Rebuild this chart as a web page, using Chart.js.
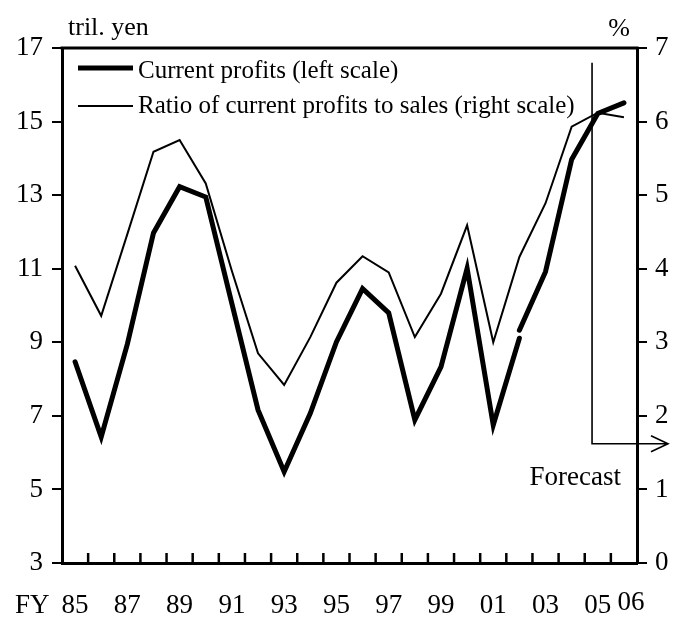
<!DOCTYPE html>
<html>
<head>
<meta charset="utf-8">
<script src="https://cdn.jsdelivr.net/npm/chart.js@4"></script>
<style>
  html, body { margin: 0; padding: 0; background: #fff; }
  #wrap { width: 675px; height: 617px; }
</style>
</head>
<body>
<div id="wrap"><canvas id="chart" width="675" height="617"></canvas></div>
<script>
// Datos (FY 1985 - 2006)
const years = ['85','86','87','88','89','90','91','92','93','94','95','96','97','98','99','00','01','02','03','04','05','06'];
const xTickLabels = ['85','87','89','91','93','95','97','99','01','03','05','06'];

// Beneficios corrientes (billones de yenes, escala izquierda) - serie antigua y nueva (corte en FY02)
const profitsOld = [8.47, 6.43, 8.95, 11.97, 13.23, 12.95, 10.05, 7.16, 5.48, 7.07, 9.01, 10.46, 9.80, 6.89, 8.33, 11.01, 6.75, 9.11, null, null, null, null];
const profitsNew = [null, null, null, null, null, null, null, null, null, null, null, null, null, null, null, null, null, 9.33, 10.92, 13.97, 15.22, 15.51];

// Ratio beneficios / ventas (%, escala derecha)
const ratio = [4.04, 3.36, 4.47, 5.59, 5.75, 5.16, 3.97, 2.85, 2.42, 3.07, 3.81, 4.17, 3.95, 3.07, 3.66, 4.59, 3.00, 4.16, 4.89, 5.93, 6.12, 6.06];

const leftTicks = [3, 5, 7, 9, 11, 13, 15, 17];
const rightTicks = [0, 1, 2, 3, 4, 5, 6, 7];

// Marca de previsión
const forecastAt = 19.78;      // posición en el eje de categorías
const forecastTop = 6.8;       // escala derecha
const forecastArrow = 1.62;    // escala derecha
const forecastText = 1.06;     // escala derecha

const FONT = "'Liberation Serif', 'Times New Roman', serif";

// Plugin para textos, ticks del eje X, borde superior, leyenda y flecha de previsión
const decorations = {
    id: 'decorations',
    afterDraw(chart) {
        const ctx = chart.ctx;
        const area = chart.chartArea;
        const x = chart.scales.x;
        const yR = chart.scales.y1;
        ctx.save();
        ctx.strokeStyle = '#000';
        ctx.fillStyle = '#000';

        // borde superior
        ctx.lineWidth = 3;
        ctx.beginPath();
        ctx.moveTo(area.left - 1.5, area.top);
        ctx.lineTo(area.right + 1.5, area.top);
        ctx.stroke();

        // ticks del eje X hacia dentro (entre categorías)
        ctx.lineWidth = 2.5;
        for (let i = 1; i < years.length; i++) {
            const px = (x.getPixelForTick(i - 1) + x.getPixelForTick(i)) / 2;
            ctx.beginPath();
            ctx.moveTo(px, area.bottom);
            ctx.lineTo(px, area.bottom - 10);
            ctx.stroke();
        }

        // etiquetas del eje X
        ctx.font = '27px ' + FONT;
        ctx.textAlign = 'center';
        ctx.textBaseline = 'alphabetic';
        years.forEach((lab, i) => {
            if (!xTickLabels.includes(lab)) return;
            const last = i === years.length - 1;
            ctx.fillText(lab, x.getPixelForTick(i) + (last ? 7 : 0), last ? 610 : 613);
        });
        ctx.textAlign = 'left';
        ctx.fillText('FY', 15, 613);

        // unidades
        ctx.font = '26px ' + FONT;
        ctx.fillText('tril. yen', 68, 35);
        ctx.textAlign = 'right';
        ctx.fillText('%', area.right - 7, 36);

        // leyenda
        const items = [chart.data.datasets[0], chart.data.datasets[2]];
        const lineY = [68, 106];
        const textY = [78, 113];
        ctx.font = '25px ' + FONT;
        ctx.textAlign = 'left';
        items.forEach((ds, i) => {
            ctx.lineWidth = ds.borderWidth;
            ctx.beginPath();
            ctx.moveTo(78, lineY[i]);
            ctx.lineTo(133, lineY[i]);
            ctx.stroke();
            ctx.fillText(ds.label, 138, textY[i]);
        });

        // previsión
        const fx = x.getPixelForValue(forecastAt);
        const ft = yR.getPixelForValue(forecastTop);
        const fb = yR.getPixelForValue(forecastArrow);
        const tip = area.right + 31;
        ctx.lineWidth = 1.6;
        ctx.beginPath();
        ctx.moveTo(fx, ft);
        ctx.lineTo(fx, fb);
        ctx.lineTo(tip, fb);
        ctx.moveTo(tip - 17, fb - 8);
        ctx.lineTo(tip, fb);
        ctx.lineTo(tip - 17, fb + 8);
        ctx.stroke();
        ctx.font = '27px ' + FONT;
        ctx.textAlign = 'right';
        ctx.fillText('Forecast', fx + 29, yR.getPixelForValue(forecastText));
        ctx.restore();
    }
};

const ctx = document.getElementById('chart').getContext('2d');
new Chart(ctx, {
    type: 'line',
    data: {
        labels: years,
        datasets: [
            {
                label: 'Current profits (left scale)',
                data: profitsOld,
                yAxisID: 'y',
                borderColor: '#000',
                borderWidth: 5,
                borderCapStyle: 'round',
                pointRadius: 0,
                tension: 0,
                spanGaps: false
            },
            {
                label: 'Current profits (new)',
                data: profitsNew,
                yAxisID: 'y',
                borderColor: '#000',
                borderWidth: 5,
                borderCapStyle: 'round',
                pointRadius: 0,
                tension: 0,
                spanGaps: false
            },
            {
                label: 'Ratio of current profits to sales (right scale)',
                data: ratio,
                yAxisID: 'y1',
                borderColor: '#000',
                borderWidth: 2,
                pointRadius: 0,
                tension: 0
            }
        ]
    },
    options: {
        responsive: false,
        animation: false,
        layout: { padding: { top: 48, left: 0, right: 0, bottom: 0 } },
        plugins: {
            legend: { display: false },
            tooltip: { enabled: false }
        },
        scales: {
            x: {
                type: 'category',
                offset: true,
                grid: { display: false },
                border: { display: true, color: '#000', width: 3 },
                ticks: { display: false, autoSkip: false },
                afterFit: (scale) => { scale.height = 54; }
            },
            y: {
                position: 'left',
                min: 3,
                max: 17,
                afterBuildTicks: (scale) => { scale.ticks = leftTicks.map(v => ({ value: v })); },
                grid: { drawOnChartArea: false, tickLength: 10, lineWidth: 2, color: '#000' },
                border: { display: true, color: '#000', width: 3 },
                ticks: { color: '#000', font: { family: FONT, size: 27 }, padding: 9 },
                afterFit: (scale) => { scale.width = 62; }
            },
            y1: {
                position: 'right',
                min: 0,
                max: 7,
                afterBuildTicks: (scale) => { scale.ticks = rightTicks.map(v => ({ value: v })); },
                grid: { drawOnChartArea: false, tickLength: 10, lineWidth: 2, color: '#000' },
                border: { display: true, color: '#000', width: 3 },
                ticks: { color: '#000', font: { family: FONT, size: 27 }, padding: 8 },
                afterFit: (scale) => { scale.width = 38; }
            }
        }
    },
    plugins: [decorations]
});
</script>
</body>
</html>
